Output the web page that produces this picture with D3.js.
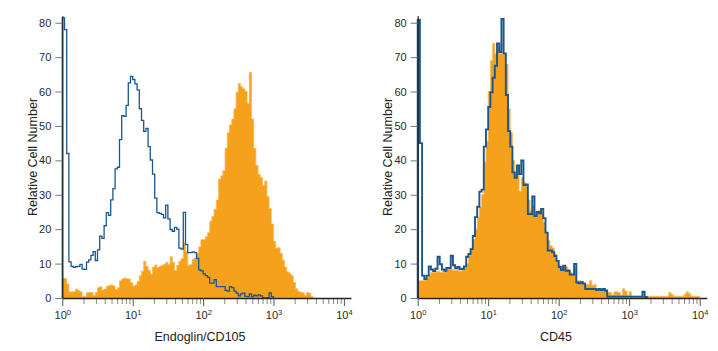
<!DOCTYPE html>
<html><head><meta charset="utf-8">
<script src="https://cdn.jsdelivr.net/npm/d3@7/dist/d3.min.js"></script>
<style>
html,body{margin:0;padding:0;background:#fff;}
svg{display:block;font-family:"Liberation Sans",Arial,sans-serif;}
</style></head><body>
<svg id="c" width="718" height="351"></svg>
<script>
// ---- data ----
const binsPerDecade = 32;               // histogram channels per decade (log scale)
const yTicks = [0, 10, 20, 30, 40, 50, 60, 70, 80];
const xMajorTicks = [1, 10, 100, 1000, 10000];
const xTickExponents = ["0", "1", "2", "3", "4"];
const xTitles = ["Endoglin/CD105", "CD45"];
const yTitle = "Relative Cell Number";

// Endoglin/CD105 panel: isotype control (blue outline) and stained (orange fill)
const leftBlue = [81.4, 78, 42, 10.5, 9.2, 8.9, 9.1, 9.2, 9.8, 8.4,
  8.3, 10.4, 11.1, 12.4, 13.5, 10.9, 14, 18, 17.3, 21,
  24.8, 24, 28.5, 31.8, 37.5, 38, 46, 53, 52.8, 56,
  62.5, 64.4, 63.5, 62.2, 60.5, 55, 51.6, 48.4, 49.3, 44,
  40.1, 36, 29, 24.8, 24.6, 24.3, 23.3, 27, 23, 19.9,
  19.4, 20.5, 20, 14.5, 14.2, 24.9, 15.5, 13.2, 13.2, 13.4,
  13.2, 11.5, 8.2, 7.9, 7, 6.5, 6, 4.3, 4.3, 5.3,
  3.3, 3.3, 3.3, 3.3, 2.2, 2.0, 3.3, 3, 2, 1.4,
  0.6, 1.2, 1.4, 0.5, 0.4, 1.2, 0.4, 0.8, 0.6, 0.9,
  0.6, 0, 0, 0, 1.5, 0.4];
const leftOrange = [5.7, 5.7, 4.1, 1.8, 1.8, 1.8, 2.6, 2.2, 1.8, 0.5,
  0.5, 1.6, 1.6, 1.6, 0.8, 1.6, 3.0, 3.3, 2.3, 2.6,
  3.4, 3.6, 3.8, 3.5, 2.5, 3.0, 5.0, 5.5, 5.8, 5.6,
  5.5, 4.5, 3.5, 3.8, 4.8, 6.5, 7.8, 10.7, 9.2, 8.1,
  7, 9, 9.6, 8.8, 9.2, 9.5, 9.8, 10.4, 9.7, 12,
  10.4, 8, 9.5, 10.7, 11.5, 15.9, 13.5, 9.5, 9.7, 11.3,
  11.6, 13, 14.8, 17, 16.9, 17.8, 19, 22.3, 23.7, 25.8,
  28.5, 34.5, 35.5, 37, 43.5, 48, 50.3, 52, 55, 59.8,
  62.3, 61.4, 60.8, 60.1, 56.5, 65.6, 52, 43.5, 38.5, 35.9,
  35, 32.7, 34, 29.5, 26, 21.5, 16.5, 14.5, 14.6, 13,
  11, 9, 7.6, 7.2, 6.5, 4.5, 2.7, 1.9, 1.7, 1.5,
  0.8, 1.6, 1.4, 0.4];

// CD45 panel
const rightBlue = [80.8, 45, 6.5, 5.5, 6.5, 9.2, 8.3, 7.8, 8.5, 12,
  9.8, 8.3, 7.9, 8.7, 8.7, 12.3, 9.5, 8.6, 9, 8.4,
  8.5, 9.2, 12, 12.8, 14.2, 18, 23.5, 26.5, 30.9, 31.5,
  44, 49, 55.5, 59.8, 64, 67.5, 74, 71.5, 81.1, 71.1,
  59, 48.5, 44, 36.5, 34.9, 38.5, 36, 40, 32.8, 33,
  24.4, 24.4, 29.5, 23.8, 25, 24.6, 25.9, 23.2, 19, 13.8,
  13.8, 13.3, 12.2, 10.8, 9, 8.1, 9.4, 7.9, 7.9, 6.8,
  6.8, 9.9, 4.5, 4.3, 4.6, 4.2, 2.6, 2.6, 2.6, 2.6,
  2.6, 2.3, 2.6, 2.3, 2.6, 2.2, 0.4, 0.4, 0.4, 0.4,
  0.4, 0.4, 0.4, 0.4, 0.4, 0.4, 0.4, 0.4, 0.4, 0.4,
  0.4, 0.4, 1.8, 0.3];
const rightOrange = [5, 5, 5, 5.3, 6, 6.8, 7.5, 7.5, 7.5, 7.8,
  7.4, 7.5, 8.1, 8.4, 8.4, 8.3, 8.1, 8.1, 8, 7.8,
  8.2, 8.9, 10, 12.2, 14.5, 17, 20, 23.5, 26.5, 30,
  39.5, 45.5, 60, 69, 74, 71, 73, 71, 71, 71,
  68, 55, 48, 40, 36.5, 38, 31, 35, 33.6, 32.5,
  28.5, 25.5, 26.8, 24.6, 24.4, 25.5, 24.5, 22, 19, 16.7,
  15.2, 14.5, 12.8, 11, 9.5, 8.7, 9, 9.1, 8.4, 7.4,
  7.2, 8.9, 5, 5, 4.3, 3.9, 3.9, 3.9, 5, 3.7,
  3.9, 2.6, 2.6, 2.6, 2.6, 2.2, 1.6, 1.6, 0.9, 1.8,
  1.8, 1.6, 0.8, 2.7, 2, 0.8, 1.8, 0.5, 0.5, 0.5,
  0.5, 0.5, 0.5, 0.5, 0.5, 0.5, 0.5, 0.5, 0.5, 0.5,
  0.5, 0.5, 0.5, 0.5, 1.6, 1.0, 0.5, 0.5, 0.5, 0.5,
  0.5, 1.2, 1.8, 1.2, 0.5, 0.5, 0.5, 0.5];

// ---- layout ----
const panels = [
  {x0: 62.3, dec: 70.4, blue: leftBlue, orange: leftOrange, bw: 1.3, title: xTitles[0], titleX: 200, ylabX: 37},
  {x0: 417.7, dec: 70.5, blue: rightBlue, orange: rightOrange, bw: 1.9, title: xTitles[1], titleX: 556, ylabX: 392}
];
const xMaxExp = 4.1;
const yBase = 298, pxPerUnit = 3.441;
const edge = k => Math.pow(10, k / binsPerDecade);

const svg = d3.select("#c");
const minorTicks = [];
for (let e = 0; e < 4; e++) for (let m = 2; m <= 9; m++) minorTicks.push(m * Math.pow(10, e));

panels.forEach(p => {
  const x = d3.scaleLog().domain([1, Math.pow(10, xMaxExp)]).range([p.x0, p.x0 + xMaxExp * p.dec]);
  const y = d3.scaleLinear().domain([0, 82]).range([yBase, yBase - 82 * pxPerUnit]);
  const g = svg.append("g");

  const opts = [];
  p.orange.forEach((v, k) => { opts.push([edge(k), v], [edge(k + 1), v]); });
  g.append("path").datum(opts)
    .attr("d", d3.area().x(d => x(d[0])).y0(y(0)).y1(d => y(d[1])))
    .attr("fill", "#f6a11c").attr("stroke", "#f8b955").attr("stroke-width", 0.8);

  const bpts = [[1, 0]];
  p.blue.forEach((v, k) => { bpts.push([edge(k), v], [edge(k + 1), v]); });
  bpts.push([edge(p.blue.length), 0]);
  g.append("path").datum(bpts)
    .attr("d", d3.line().x(d => x(d[0])).y(d => y(d[1])))
    .attr("fill", "none").attr("stroke", "#1b578c").attr("stroke-width", p.bw);

  // y axis
  const ya = g.append("g").attr("transform", `translate(${p.x0},0)`)
    .call(d3.axisLeft(y).tickValues(yTicks).tickSize(7).tickSizeOuter(0).tickPadding(4));
  ya.select(".domain").attr("stroke", "#222").attr("stroke-width", 1.3);
  ya.selectAll(".tick line").attr("stroke", "#777");
  ya.selectAll(".tick text").attr("fill", "#2a2a2a").style("font-size", "11px").style("font-family", "Liberation Sans, Arial, sans-serif");

  // x axis minor
  const xm = g.append("g").attr("transform", `translate(0,${yBase})`)
    .call(d3.axisBottom(x).tickValues(minorTicks).tickSize(6).tickFormat(""));
  xm.select(".domain").remove();
  xm.selectAll(".tick line").attr("stroke", "#888");
  // x axis major
  const xa = g.append("g").attr("transform", `translate(0,${yBase})`)
    .call(d3.axisBottom(x).tickValues(xMajorTicks).tickSize(8).tickSizeOuter(0).tickPadding(5).tickFormat(""));
  xa.select(".domain").attr("stroke", "#222").attr("stroke-width", 1.3);
  xa.selectAll(".tick line").attr("stroke", "#555");
  xa.selectAll(".tick text").each(function(d, i) {
    const t = d3.select(this).attr("fill", "#2a2a2a").style("font-size", "11px").style("font-family", "Liberation Sans, Arial, sans-serif");
    t.append("tspan").text("10");
    t.append("tspan").attr("dy", "-0.45em").style("font-size", "7.5px").text(xTickExponents[i]);
  });

  g.append("text").attr("x", p.titleX).attr("y", 341).attr("text-anchor", "middle")
    .attr("fill", "#222").style("font-size", "12.5px").text(p.title);
  g.append("text").attr("transform", `translate(${p.ylabX},157) rotate(-90)`).attr("text-anchor", "middle")
    .attr("fill", "#222").style("font-size", "12.5px").text(yTitle);
});
</script>
</body></html>
